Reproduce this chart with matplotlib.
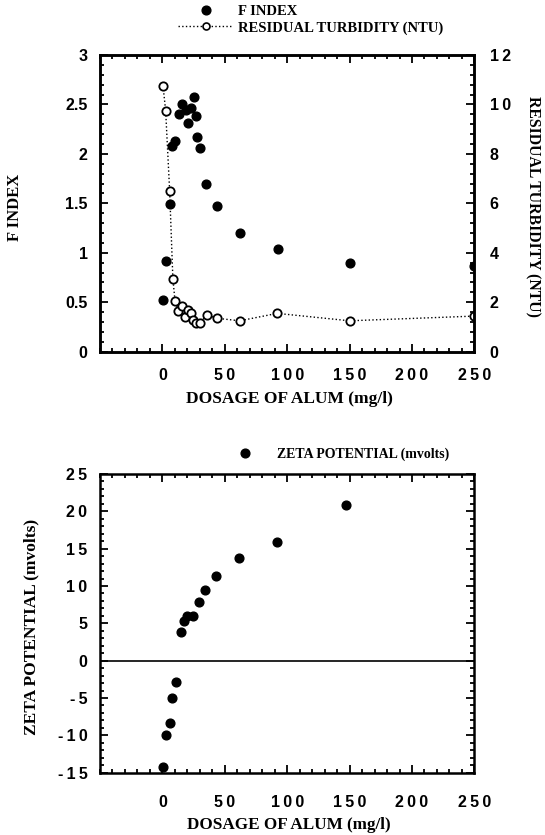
import matplotlib
matplotlib.use('Agg')
import matplotlib.pyplot as plt
from matplotlib.lines import Line2D
from matplotlib.font_manager import FontProperties
from matplotlib.ticker import MultipleLocator, FuncFormatter

plt.rcParams['axes.unicode_minus'] = False

# dosage of alum (mg/l) and F index
dose_f = [0.5, 2.9, 5.8, 7.4, 10.1, 13.3, 15.4, 18.6, 20.5, 22.6, 25.3, 26.6, 28, 30, 35.3, 43.7, 62.1, 92.4, 150, 250]
f_index = [0.52, 0.92, 1.49, 2.08, 2.13, 2.40, 2.50, 2.44, 2.31, 2.46, 2.58, 2.38, 2.17, 2.06, 1.70, 1.47, 1.20, 1.04, 0.90, 0.87]

# residual turbidity (NTU)
dose_t = [0.5, 2.6, 5.8, 8.4, 10.1, 12.8, 15.4, 18.1, 20.3, 22.6, 24.5, 27.2, 30, 35.4, 44, 62, 92, 150, 250]
turbidity = [10.75, 9.75, 6.51, 2.94, 2.06, 1.65, 1.86, 1.39, 1.68, 1.55, 1.28, 1.18, 1.15, 1.48, 1.35, 1.25, 1.55, 1.25, 1.44]

# zeta potential (mvolts)
dose_z = [0.5, 3.2, 5.8, 7.7, 10.5, 15.3, 17.4, 20, 24.7, 29.2, 34.5, 42.9, 61.6, 91.8, 147]
zeta = [-14.3, -10.0, -8.35, -5.0, -2.9, 3.84, 5.27, 5.94, 6.03, 7.86, 9.46, 11.4, 13.8, 15.9, 20.9]

x_ticks = [0, 50, 100, 150, 200, 250]

tick_prop = FontProperties(family=['Liberation Sans', 'DejaVu Sans'], weight='bold', size=11.5)


def lab(size):
    return {'family': 'Liberation Serif', 'weight': 'bold', 'size': size}


def spaced(v, pos):
    # old typewriter-like spacing between the digits
    s = '%g' % v
    out = s[0]
    for a, b in zip(s, s[1:]):
        out += b if '.' in (a, b) else '\u2009' + b
    return out


fmt = FuncFormatter(spaced)

W, H = 545, 835
fig = plt.figure(figsize=(W / 100, H / 100), dpi=100)
ax1 = fig.add_axes([100 / W, 1 - 351.7 / H, 374.4 / W, 296.7 / H])
ax2 = ax1.twinx()
ax3 = fig.add_axes([100 / W, 1 - 772.7 / H, 374.4 / W, 298.7 / H])


def style(ax, xpad=12):
    for s in ax.spines.values():
        s.set_linewidth(1.8)
    ax.tick_params(which='both', direction='in', width=1.3)
    ax.tick_params(which='major', length=6)
    ax.tick_params(which='minor', length=3)
    ax.tick_params(axis='x', pad=xpad)
    ax.tick_params(axis='y', pad=9)
    for t in ax.get_xticklabels() + ax.get_yticklabels():
        t.set_fontproperties(tick_prop)


# top panel
ax2.plot(dose_t, turbidity, linestyle=':', color='black', linewidth=1.0,
         marker='o', markersize=6, markerfacecolor='white', markeredgecolor='black',
         markeredgewidth=1.3, zorder=2)
ax1.plot(dose_f, f_index, linestyle='', marker='o', markersize=6.3, color='black', zorder=3)
ax1.set_zorder(ax2.get_zorder() + 1)
ax1.patch.set_visible(False)

ax1.set_xlim(-50, 250)
ax1.set_ylim(0, 3)
ax2.set_ylim(0, 12)
ax1.set_xticks(x_ticks)
ax1.xaxis.set_minor_locator(MultipleLocator(10))
ax1.yaxis.set_major_locator(MultipleLocator(0.5))
ax1.yaxis.set_minor_locator(MultipleLocator(0.1))
ax2.yaxis.set_major_locator(MultipleLocator(2))
ax2.yaxis.set_minor_locator(MultipleLocator(0.4))
ax1.xaxis.set_major_formatter(fmt)
ax1.yaxis.set_major_formatter(fmt)
ax2.yaxis.set_major_formatter(fmt)
ax1.tick_params(which='both', top=True, right=False)
style(ax1)
style(ax2)
ax2.tick_params(axis='y', pad=11)

ax1.set_xlabel('DOSAGE OF ALUM (mg/l)', fontdict=lab(12.5))
ax1.set_ylabel('F INDEX', fontdict=lab(12))
ax2.set_ylabel('RESIDUAL TURBIDITY (NTU)', fontdict=lab(11.3), rotation=270)
ax1.xaxis.label.set_va('center')
ax1.yaxis.label.set_va('center')
ax2.yaxis.label.set_va('center')
ax1.xaxis.set_label_coords(0.505, -0.159)
ax1.yaxis.set_label_coords(-0.227, 0.488)
ax2.yaxis.set_label_coords(1.155, 0.488)

h_f = Line2D([], [], linestyle='', marker='o', markersize=6.3, color='black')
h_t = Line2D([], [], linestyle=':', color='black', linewidth=1.0, marker='o', markersize=5,
             markerfacecolor='white', markeredgecolor='black', markeredgewidth=1.2)
fig.legend([h_f, h_t], ['F INDEX', 'RESIDUAL TURBIDITY (NTU)'], loc='upper left',
           bbox_to_anchor=(178 / W, 1 - 5 / H), frameon=False, prop=lab(10.5),
           handlelength=3.8, handletextpad=0.3, labelspacing=0.2, borderpad=0,
           borderaxespad=0)

# bottom panel
ax3.axhline(0, color='black', linewidth=1.2)
ax3.plot(dose_z, zeta, linestyle='', marker='o', markersize=6.3, color='black', clip_on=False)
ax3.set_xlim(-50, 250)
ax3.set_ylim(-15, 25)
ax3.set_xticks(x_ticks)
ax3.xaxis.set_minor_locator(MultipleLocator(10))
ax3.yaxis.set_major_locator(MultipleLocator(5))
ax3.yaxis.set_minor_locator(MultipleLocator(1))
ax3.xaxis.set_major_formatter(fmt)
ax3.yaxis.set_major_formatter(fmt)
ax3.tick_params(which='both', top=True, right=True)
style(ax3, xpad=16)

ax3.set_xlabel('DOSAGE OF ALUM (mg/l)', fontdict=lab(12.3))
ax3.set_ylabel('ZETA POTENTIAL (mvolts)', fontdict=lab(12.5))
ax3.xaxis.label.set_va('center')
ax3.yaxis.label.set_va('center')
ax3.xaxis.set_label_coords(0.505, -0.175)
ax3.yaxis.set_label_coords(-0.182, 0.488)

h_z = Line2D([], [], linestyle='', marker='o', markersize=6.3, color='black')
fig.legend([h_z], ['ZETA POTENTIAL (mvolts)'], loc='center left',
           bbox_to_anchor=(217 / W, 1 - 454 / H), frameon=False, prop=lab(10),
           handlelength=4, handletextpad=0.3, borderpad=0, borderaxespad=0)

fig.savefig('out.png', dpi=100)
